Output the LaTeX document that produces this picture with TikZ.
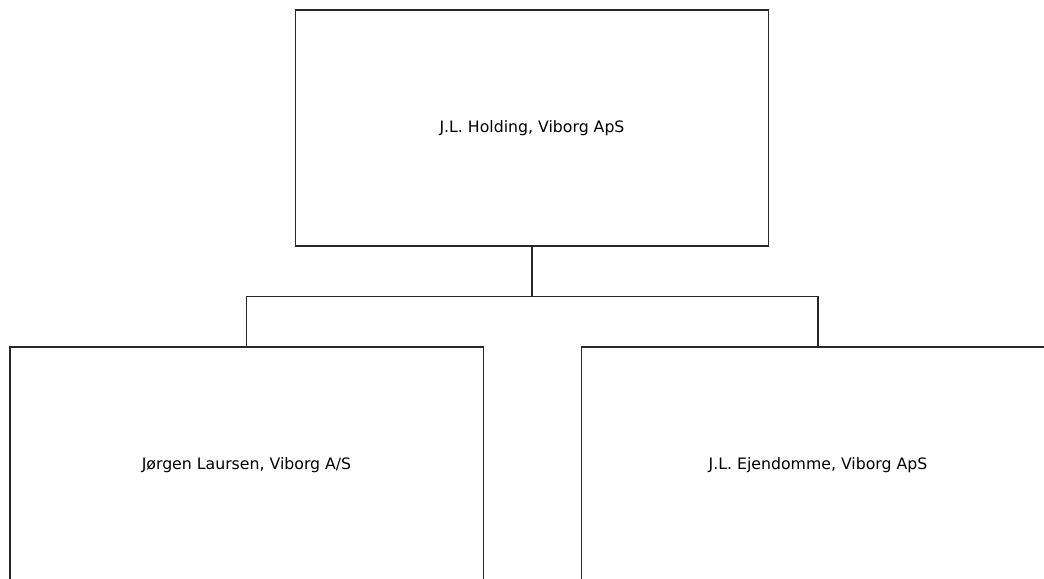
\documentclass[tikz,border=0pt]{standalone}
\usepackage{fontspec}
\setmainfont{DejaVu Sans}
\usepackage{tikz}
\usetikzlibrary{positioning}
\definecolor{orgline}{RGB}{40,40,40}
\tikzstyle{company} = [rectangle, minimum width=355pt, minimum height=177pt, text centered, draw=orgline, line width=1pt, font=\fontsize{11.8}{14}\selectfont]
\tikzstyle{link} = [draw=orgline, line width=1pt]

\begin{document}
\begin{tikzpicture}[x=0.75pt, y=-0.75pt]
\useasboundingbox (0,0) rectangle (1044,578);
\clip (0,0) rectangle (1044,578);
% Org chart
\node[company] (holding) at (532,128) {J.L. Holding, Viborg ApS};
\node[company] (laursen) at (246.5,465) {Jørgen Laursen, Viborg A/S};
\node[company] (ejendomme) at (818,465) {J.L. Ejendomme, Viborg ApS};
\coordinate (bus) at (532,296.5);
\draw[link] (holding.south) -- (bus);
\draw[link] (laursen.north) |- (bus) -| (ejendomme.north);
\end{tikzpicture}
\end{document}
